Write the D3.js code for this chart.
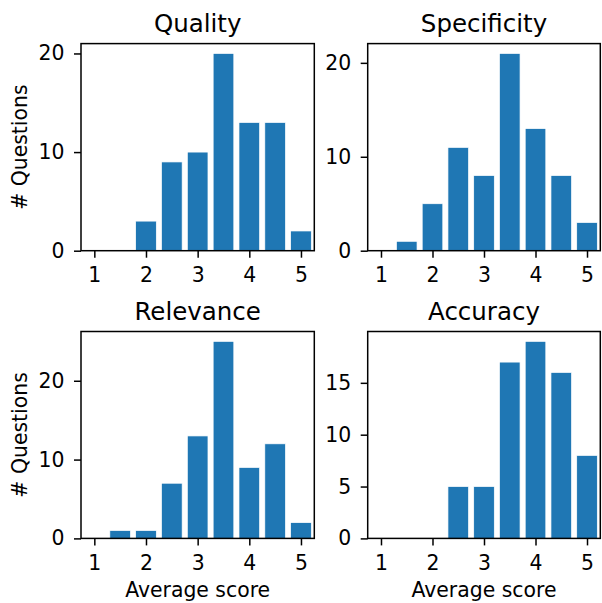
<!DOCTYPE html>
<html>
<head>
<meta charset="utf-8">
<script src="https://cdn.jsdelivr.net/npm/d3@7"></script>
<style>
  body { margin: 0; background: #fff; }
  text { font-family: "DejaVu Sans", sans-serif; fill: #000; }
</style>
</head>
<body>
<div id="chart"></div>
<script>
var width = 602,
    height = 603;

// bin centres (average score)
var scores = [1, 1.5, 2, 2.5, 3, 3.5, 4, 4.5, 5];
var xTicks = [1, 2, 3, 4, 5];

var titles = ["Quality", "Specificity", "Relevance", "Accuracy"];

var quality     = [0, 0, 3, 9, 10, 20, 13, 13, 2];
var specificity = [0, 1, 5, 11, 8, 21, 13, 8, 3];
var relevance   = [0, 1, 1, 7, 13, 25, 9, 12, 2];
var accuracy    = [0, 0, 0, 5, 5, 17, 19, 16, 8];

var yTicksQuality     = [0, 10, 20];
var yTicksSpecificity = [0, 10, 20];
var yTicksRelevance   = [0, 10, 20];
var yTicksAccuracy    = [0, 5, 10, 15];

var series = [quality, specificity, relevance, accuracy];
var yTicksAll = [yTicksQuality, yTicksSpecificity, yTicksRelevance, yTicksAccuracy];

// panel boxes
var cols = [[81, 314.3], [367.7, 600.3]];
var rows = [[43.6, 250.7], [331.5, 538.4]];

var svg = d3.select("#chart").append("svg")
    .attr("width", width)
    .attr("height", height);

series.forEach(function(values, i) {
  var c = cols[i % 2], r = rows[Math.floor(i / 2)];
  var x = d3.scaleLinear().domain([0.742, 5.258]).range(c);
  var y = d3.scaleLinear().domain([0, d3.max(values) * 1.05]).range([r[1], r[0]]);
  var g = svg.append("g");
  var barW = 0.4;

  g.selectAll("rect.bar")
    .data(values.map(function(v, j) { return {s: scores[j], v: v}; }))
    .enter().append("rect")
    .attr("class", "bar")
    .attr("x", function(d) { return x(d.s - barW / 2); })
    .attr("width", function(d) { return x(d.s + barW / 2) - x(d.s - barW / 2); })
    .attr("y", function(d) { return y(d.v); })
    .attr("height", function(d) { return y(0) - y(d.v); })
    .style("fill", "#1f77b4")
    .style("stroke", "#fff")
    .style("stroke-width", 0.7);

  // frame
  g.append("rect")
    .attr("x", c[0]).attr("y", r[0])
    .attr("width", c[1] - c[0]).attr("height", r[1] - r[0])
    .style("fill", "none").style("stroke", "#000").style("stroke-width", 1.5);

  var xAxis = g.append("g")
    .attr("transform", "translate(0," + r[1] + ")")
    .call(d3.axisBottom(x).tickValues(xTicks).tickSize(7).tickPadding(10).tickFormat(d3.format("d")));
  var yAxis = g.append("g")
    .attr("transform", "translate(" + c[0] + ",0)")
    .call(d3.axisLeft(y).tickValues(yTicksAll[i]).tickSize(7).tickPadding(9.5).tickFormat(d3.format("d")));

  [xAxis, yAxis].forEach(function(a) {
    a.select(".domain").remove();
    a.selectAll("line").style("stroke", "#000").style("stroke-width", 1.5);
    a.selectAll("text").style("font-size", "20.4px").style("font-family", "DejaVu Sans");
  });

  g.append("text")
    .attr("x", (c[0] + c[1]) / 2)
    .attr("y", r[0] - 12)
    .attr("text-anchor", "middle")
    .style("font-size", "24.5px")
    .text(titles[i]);

  if (i % 2 === 0) {
    g.append("text")
      .attr("transform", "translate(27," + (r[0] + r[1]) / 2 + ")rotate(-90)")
      .attr("text-anchor", "middle")
      .style("font-size", "20.4px")
      .text("# Questions");
  }
  if (i >= 2) {
    g.append("text")
      .attr("x", (c[0] + c[1]) / 2)
      .attr("y", 597)
      .attr("text-anchor", "middle")
      .style("font-size", "20.4px")
      .text("Average score");
  }
});
</script>
</body>
</html>
